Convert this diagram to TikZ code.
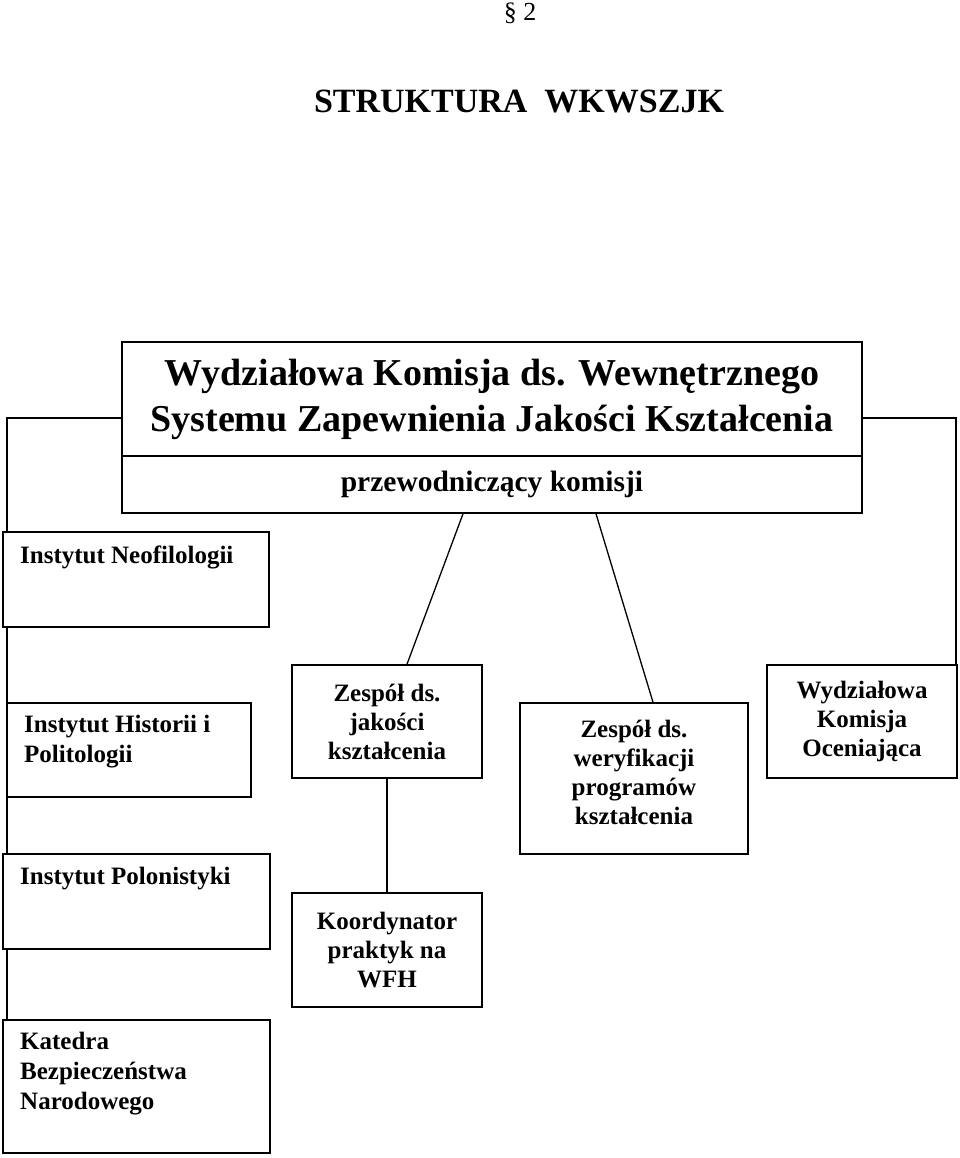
\documentclass[tikz,border=0pt]{standalone}
\usepackage{fontspec}
\setmainfont{Liberation Serif}
\begin{document}
\begin{tikzpicture}[x=1pt,y=-1pt,
  box/.style={draw=black,line width=1.6pt,rectangle,inner sep=0pt},
  conn/.style={draw=black,line width=1.3pt},
  btxt/.style={font=\fontsize{25}{29}\selectfont\bfseries,align=center,inner sep=0pt},
  ltxt/.style={font=\fontsize{25}{30}\selectfont\bfseries,align=left,inner sep=0pt,anchor=west}]
\useasboundingbox (0,0) rectangle (960,1158);
% header
\node[font=\fontsize{26}{30}\selectfont,inner sep=0pt] (par) at (520,13) {§ 2};
\node[font=\fontsize{34}{40}\selectfont\bfseries,inner sep=0pt] (title) at (519,102) {STRUKTURA\ \ WKWSZJK};
% main box
\node[box,minimum width=740pt,minimum height=114pt,align=center,
  font=\fontsize{38}{46}\selectfont\bfseries] (mainT) at (492,399)
  {Wydziałowa Komisja ds. Wewnętrznego\\Systemu Zapewnienia Jakości Kształcenia};
\node[box,minimum width=740pt,minimum height=57pt,
  font=\fontsize{29.5}{32}\selectfont\bfseries] (mainB) at (492,484.5) {przewodniczący komisji};
% left column
\node[box,minimum width=266pt,minimum height=95pt] (neo) at (136,579.5) {};
\node[ltxt] (neoT) at (20,557) {Instytut Neofilologii};
\node[box,minimum width=244pt,minimum height=94pt] (hist) at (129,750) {};
\node[ltxt] (histT) at (24,742) {Instytut Historii i\\Politologii};
\node[box,minimum width=267pt,minimum height=95pt] (pol) at (136.5,901.5) {};
\node[ltxt] (polT) at (20,879) {Instytut Polonistyki};
\node[box,minimum width=267pt,minimum height=133pt] (kat) at (136.5,1086.5) {};
\node[ltxt] (katT) at (20,1074) {Katedra\\Bezpieczeństwa\\Narodowego};
% middle
\node[box,btxt,minimum width=190pt,minimum height=113pt] (zj) at (387,721.5)
  {Zespół ds.\\jakości\\kształcenia};
\node[box,btxt,minimum width=190pt,minimum height=114pt] (koord) at (387,950)
  {Koordynator\\praktyk na\\WFH};
\node[box,minimum width=228pt,minimum height=151pt] (wer) at (634,778.5) {};
\node[btxt] (werT) at (634,772) {Zespół ds.\\weryfikacji\\programów\\kształcenia};
\node[box,btxt,minimum width=190pt,minimum height=113pt] (ocen) at (862,721.5)
  {Wydziałowa\\Komisja\\Oceniająca};
% connectors
\coordinate (lc) at (7,418);
\coordinate (rc) at (956,418);
\draw[conn] (lc -| mainT.west) -- (lc) -- (lc |- neo.north);
\draw[conn] (lc |- neo.south) -- (lc |- hist.north);
\draw[conn] (lc |- hist.south) -- (lc |- pol.north);
\draw[conn] (lc |- pol.south) -- (lc |- kat.north);
\draw[conn] (rc -| mainT.east) -- (rc) -- (rc |- ocen.north);
\draw[conn] ([xshift=-29pt]mainB.south) -- ([xshift=20pt]zj.north);
\draw[conn] ([xshift=104pt]mainB.south) -- ([xshift=19pt]wer.north);
\draw[conn] (zj.south) -- (koord.north);
\end{tikzpicture}
\end{document}
